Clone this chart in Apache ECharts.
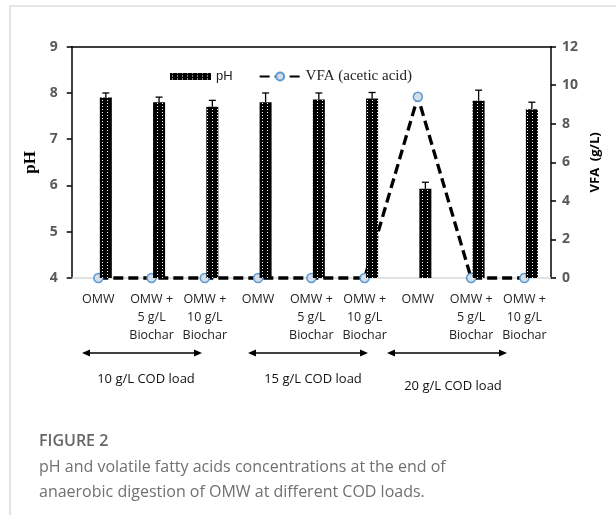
<!DOCTYPE html>
<html>
<head>
<meta charset="utf-8">
<script src="https://cdn.jsdelivr.net/npm/echarts@6/dist/echarts.min.js"></script>
<style>
html,body{margin:0;padding:0;background:#fff;}
#c{width:616px;height:515px;}
</style>
</head>
<body>
<div id="c"></div>
<script>
// ---- data ----
const categories = ['OMW', 'OMW +\n5 g/L\nBiochar', 'OMW +\n10 g/L\nBiochar',
                    'OMW', 'OMW +\n5 g/L\nBiochar', 'OMW +\n10 g/L\nBiochar',
                    'OMW', 'OMW +\n5 g/L\nBiochar', 'OMW +\n10 g/L\nBiochar'];
const phValues = [7.90, 7.80, 7.70, 7.80, 7.86, 7.88, 5.93, 7.83, 7.65];
const phErrors = [0.10, 0.11, 0.14, 0.20, 0.14, 0.13, 0.14, 0.23, 0.15];
const vfaValues = [0, 0, 0, 0, 0, 0, 9.4, 0, 0];
const groupLabels = ['10 g/L COD load', '15 g/L COD load', '20 g/L COD load'];
const phTicks = [4, 5, 6, 7, 8, 9];
const vfaTicks = [0, 2, 4, 6, 8, 10, 12];

// ---- pattern fill for bars ----
const pc = document.createElement('canvas');
pc.width = 5; pc.height = 3;
const pctx = pc.getContext('2d');
pctx.fillStyle = '#000'; pctx.fillRect(0, 0, 5, 3);
pctx.fillStyle = '#fff'; pctx.fillRect(2, 1, 1, 1);
const barFill = { image: pc, repeat: 'repeat' };

const chart = echarts.init(document.getElementById('c'), null, { renderer: 'canvas' });
const barOffset = 7.5;

function arrow(x1, x2, y) {
  const h = 8, w = 3.5;
  return [
    { type: 'line', shape: { x1: x1 + 4, y1: y, x2: x2 - 4, y2: y }, style: { stroke: '#000', lineWidth: 1.3 } },
    { type: 'polygon', shape: { points: [[x1, y], [x1 + h, y - w], [x1 + h, y + w]] }, style: { fill: '#000' } },
    { type: 'polygon', shape: { points: [[x2, y], [x2 - h, y - w], [x2 - h, y + w]] }, style: { fill: '#000' } }
  ];
}

const labelFont = "'Open Sans', 'Noto Sans', sans-serif";

const option = {
  animation: false,
  backgroundColor: '#fff',
  grid: { left: 71.7, right: 65, top: 46.7, bottom: 237, containLabel: false },
  legend: {
    left: 165, top: 64,
    itemWidth: 41, itemHeight: 10, itemGap: 26,
    data: [
      { name: 'pH', icon: 'path://M0,0H41V7H0Z', textStyle: { fontFamily: "'Liberation Sans', Arial, sans-serif", fontSize: 13, color: '#222' } },
      { name: 'VFA (acetic acid)', textStyle: { fontFamily: "'Liberation Serif', 'Times New Roman', serif", fontSize: 15, color: '#222' } }
    ]
  },
  xAxis: [
    {
      type: 'category', data: categories, position: 'bottom',
      axisLine: { show: true, lineStyle: { color: '#d9d9d9', width: 1.5 } },
      axisTick: { show: false },
      axisLabel: { interval: 0, margin: 12, fontFamily: labelFont, fontSize: 12.5, lineHeight: 18, color: '#222' }
    },
    {
      type: 'category', data: categories, position: 'top',
      axisLine: { show: true, lineStyle: { color: '#000', width: 1.5 } },
      axisTick: { show: false }, axisLabel: { show: false }
    }
  ],
  yAxis: [
    {
      type: 'value', min: phTicks[0], max: phTicks[phTicks.length - 1], interval: 1,
      position: 'left',
      name: 'pH', nameLocation: 'middle', nameGap: 27, nameRotate: 90,
      nameTextStyle: { fontFamily: "'Liberation Serif', 'Times New Roman', serif", fontWeight: 'bold', fontSize: 17, color: '#000' },
      axisLine: { show: true, lineStyle: { color: '#000', width: 1.5 } },
      axisTick: { show: true, length: 5, lineStyle: { color: '#000', width: 1.5 } },
      axisLabel: { margin: 14, fontFamily: labelFont, fontWeight: 'bold', fontSize: 14, color: '#595959' },
      splitLine: { show: false }
    },
    {
      type: 'value', min: vfaTicks[0], max: vfaTicks[vfaTicks.length - 1], interval: 2,
      position: 'right',
      name: 'VFA  (g/L)', nameLocation: 'middle', nameGap: 38, nameRotate: 90,
      nameTextStyle: { fontFamily: labelFont, fontWeight: 'bold', fontSize: 13, color: '#000' },
      axisLine: { show: true, lineStyle: { color: '#000', width: 1.5 } },
      axisTick: { show: true, length: 5, lineStyle: { color: '#000', width: 1.5 } },
      axisLabel: { margin: 11, fontFamily: labelFont, fontWeight: 'bold', fontSize: 14, color: '#595959' },
      splitLine: { show: false }
    }
  ],
  series: [
    {
      name: 'spacer', type: 'bar', xAxisIndex: 0, yAxisIndex: 0,
      data: [], barWidth: 12, barGap: '25%', silent: true
    },
    {
      name: 'VFA (acetic acid)', type: 'line', xAxisIndex: 0, yAxisIndex: 1,
      data: vfaValues, z: 2,
      lineStyle: { color: '#000', width: 3.3, type: [10, 5] },
      itemStyle: { color: '#d5dde6', borderColor: '#5b9bd5', borderWidth: 1.5 },
      symbol: 'circle', symbolSize: 9, showSymbol: true, clip: false
    },
    {
      name: 'pH', type: 'bar', xAxisIndex: 0, yAxisIndex: 0,
      data: phValues, barWidth: 12, barGap: '25%', z: 3, clip: true,
      itemStyle: { color: barFill }
    },
    {
      name: 'pHerr', type: 'custom', xAxisIndex: 0, yAxisIndex: 0, z: 4,
      data: phValues.map((v, i) => [i, v, phErrors[i]]),
      encode: { x: 0, y: 1 },
      renderItem: function (params, api) {
        const i = api.value(0), v = api.value(1), e = api.value(2);
        const b = api.coord([i, v]);
        const t = api.coord([i, v + e]);
        const cx = b[0] + barOffset;
        return {
          type: 'group',
          children: [
            { type: 'line', shape: { x1: cx, y1: b[1], x2: cx, y2: t[1] }, style: { stroke: '#000', lineWidth: 1.3 } },
            { type: 'line', shape: { x1: cx - 3.5, y1: t[1], x2: cx + 3.5, y2: t[1] }, style: { stroke: '#000', lineWidth: 1.3 } }
          ]
        };
      }
    }
  ],
  graphic: [
    { type: 'polyline', shape: { points: [[616, 6], [10, 6], [10, 515]] }, style: { stroke: '#cfcfcf', lineWidth: 1.2, fill: null }, silent: true },
    ...arrow(82, 202, 353),
    ...arrow(248, 368, 353),
    ...arrow(387, 507, 353),
    { type: 'text', x: 146, y: 379, style: { text: groupLabels[0], fontFamily: labelFont, fontSize: 13, fill: '#111', align: 'center', verticalAlign: 'middle' } },
    { type: 'text', x: 313, y: 379, style: { text: groupLabels[1], fontFamily: labelFont, fontSize: 13, fill: '#111', align: 'center', verticalAlign: 'middle' } },
    { type: 'text', x: 453, y: 386, style: { text: groupLabels[2], fontFamily: labelFont, fontSize: 13, fill: '#111', align: 'center', verticalAlign: 'middle' } },
    { type: 'text', x: 39, y: 441, style: { text: 'FIGURE 2', fontFamily: "'Open Sans', sans-serif", fontWeight: 600, fontSize: 16, fill: '#666', align: 'left', verticalAlign: 'middle' } },
    { type: 'text', x: 39, y: 467, style: { text: 'pH and volatile fatty acids concentrations at the end of', fontFamily: "'Open Sans', sans-serif", fontSize: 16, fill: '#707070', align: 'left', verticalAlign: 'middle' } },
    { type: 'text', x: 39, y: 492, style: { text: 'anaerobic digestion of OMW at different COD loads.', fontFamily: "'Open Sans', sans-serif", fontSize: 16, fill: '#707070', align: 'left', verticalAlign: 'middle' } }
  ]
};
chart.setOption(option);
</script>
</body>
</html>
